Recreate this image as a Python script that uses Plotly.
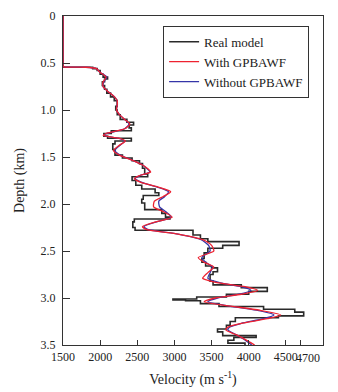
import plotly.graph_objects as go

# Real model (blocky layers): top depth of each layer (km) and its velocity (m/s)
real_depth = [0.0, 0.545, 0.56, 0.58, 0.62, 0.65, 0.67, 0.70, 0.74, 0.78, 0.82, 0.86, 0.90, 0.96,
              1.00, 1.05, 1.10, 1.13, 1.16, 1.19, 1.22, 1.25, 1.28, 1.30, 1.33, 1.36, 1.42, 1.48,
              1.51, 1.54, 1.57, 1.62, 1.68, 1.71, 1.75, 1.80, 1.84, 1.88, 1.91, 1.95, 1.99, 2.06,
              2.10, 2.14, 2.16, 2.19, 2.25, 2.28, 2.33, 2.37, 2.40, 2.44, 2.47, 2.52, 2.58, 2.62,
              2.66, 2.68, 2.72, 2.75, 2.82, 2.86, 2.89, 2.93, 2.96, 2.99, 3.01, 3.02, 3.03, 3.06,
              3.09, 3.12, 3.15, 3.19, 3.21, 3.25, 3.29, 3.33, 3.36, 3.40, 3.42, 3.45, 3.48, 3.50]
real_vel = [1500, 1900, 1960, 2000, 2040, 2100, 2060, 2030, 2060, 2090, 2140, 2190, 2230, 2210,
            2230, 2270, 2360, 2450, 2390, 2420, 2150, 2050, 2100, 2420, 2200, 2170, 2200, 2300,
            2430, 2530, 2570, 2600, 2640, 2430, 2480, 2560, 2740, 2790, 2580, 2560, 2600, 2830,
            2880, 2940, 2460, 2440, 2470, 3250, 3350, 3450, 3870, 3650, 3450, 3400, 3370, 3420,
            3500, 3580, 3520, 3480, 3520, 3900, 4250, 4000, 3700, 3300, 2980, 3150, 3350, 3600,
            4200, 4620, 4740, 4400, 3820, 3750, 3700, 3580, 3650, 4100, 3800, 3720, 3950, 3950]

# Inverted profiles (smooth)
inv_depth = [0.0, 0.53, 0.54, 0.545, 0.56, 0.60, 0.65, 0.70, 0.75, 0.80, 0.85, 0.90, 0.95, 1.00,
             1.05, 1.10, 1.15, 1.20, 1.25, 1.27, 1.30, 1.33, 1.38, 1.43, 1.48, 1.53, 1.58, 1.63,
             1.66, 1.70, 1.73, 1.77, 1.82, 1.87, 1.92, 1.97, 2.03, 2.08, 2.14, 2.19, 2.24, 2.27,
             2.32, 2.38, 2.44, 2.50, 2.57, 2.62, 2.67, 2.73, 2.79, 2.84, 2.88, 2.92, 2.96, 3.00,
             3.04, 3.08, 3.13, 3.18, 3.22, 3.27, 3.31, 3.34, 3.39, 3.44, 3.50]
with_vel = [1500, 1500, 1500, 1800, 1950, 2000, 2080, 2040, 2040, 2100, 2180, 2230, 2230, 2220,
            2260, 2330, 2400, 2330, 2080, 2040, 2250, 2340, 2250, 2180, 2260, 2420, 2560, 2650,
            2680, 2520, 2460, 2550, 2780, 2950, 2850, 2730, 2720, 2850, 2970, 2750, 2570, 2620,
            3050, 3380, 3500, 3530, 3320, 3400, 3530, 3450, 3380, 3600, 3950, 4120, 3900, 3550,
            3400, 3700, 4150, 4430, 4250, 3900, 3720, 3690, 3830, 3950, 4080]
without_vel = [1500, 1500, 1500, 1800, 1950, 2000, 2090, 2050, 2040, 2100, 2180, 2230, 2230, 2220,
               2260, 2330, 2390, 2330, 2090, 2050, 2240, 2330, 2260, 2200, 2270, 2420, 2560, 2640,
               2670, 2530, 2470, 2560, 2770, 2920, 2870, 2790, 2800, 2880, 2960, 2760, 2590, 2640,
               3050, 3360, 3460, 3480, 3370, 3420, 3510, 3480, 3450, 3620, 3900, 4030, 3870, 3580,
               3450, 3700, 4100, 4340, 4200, 3900, 3740, 3720, 3830, 3940, 4040]

x_ticks = [1500, 2000, 2500, 3000, 3500, 4000, 4500, 4700]
x_ticktext = ["1500", "2000", "2500", "3000", "3500", "4000", "4500", ""]
x_label_extra = 4700          # label drawn slightly to the right, as in the original
y_ticks = [0, 0.5, 1.0, 1.5, 2.0, 2.5, 3.0, 3.5]
y_ticktext = ["0", "0.5", "1.0", "1.5", "2.0", "2.5", "3.0", "3.5"]

x_range = [1500, 5000]

fig = go.Figure()
fig.add_trace(go.Scatter(x=real_vel, y=real_depth, mode="lines", name="Real model",
                         line=dict(color="#2a2a2a", width=1.6, shape="vh"), legendrank=1))
fig.add_trace(go.Scatter(x=without_vel, y=inv_depth, mode="lines", name="Without GPBAWF",
                         line=dict(color="#3535a8", width=1.3, shape="spline", smoothing=0.6),
                         legendrank=3))
fig.add_trace(go.Scatter(x=with_vel, y=inv_depth, mode="lines", name="With GPBAWF",
                         line=dict(color="#ee2230", width=1.3, shape="spline", smoothing=0.6),
                         legendrank=2))

font_family = "Liberation Serif, Times New Roman, serif"
fig.update_layout(
    width=330, height=384,
    margin=dict(l=55, r=15, t=8, b=47, autoexpand=False),
    paper_bgcolor="white", plot_bgcolor="white",
    font=dict(family=font_family, size=12, color="#222"),
    showlegend=True,
    legend=dict(x=0.385, y=0.97, xanchor="left", yanchor="top",
                bordercolor="#333", borderwidth=1, bgcolor="white",
                font=dict(family=font_family, size=13, color="#222"),
                tracegroupgap=0, itemwidth=30),
)
fig.add_annotation(x=x_label_extra, xref="x", y=0, yref="paper", yanchor="top",
                   xanchor="center", xshift=7, yshift=-4, showarrow=False,
                   text=str(x_label_extra), font=dict(family=font_family, size=12, color="#222"))
fig.update_xaxes(range=x_range, tickvals=x_ticks, ticktext=x_ticktext, tickangle=0,
                 ticks="inside", ticklen=5,
                 tickcolor="#333", showline=True, linecolor="#333", linewidth=1.2,
                 mirror=True, showgrid=False, zeroline=False, automargin=False,
                 title=dict(text="Velocity (m s<sup>-1</sup>)", font=dict(size=14),
                            standoff=11))
fig.update_yaxes(range=[3.5, 0], tickvals=y_ticks, ticktext=y_ticktext, ticks="inside",
                 ticklen=7, tickcolor="#333", showline=True, linecolor="#333", linewidth=1.2,
                 mirror=True, showgrid=False, zeroline=False, automargin=False,
                 ticklabelstandoff=4,
                 title=dict(text="Depth (km)", font=dict(size=14), standoff=12))

fig.write_html("out.html")
